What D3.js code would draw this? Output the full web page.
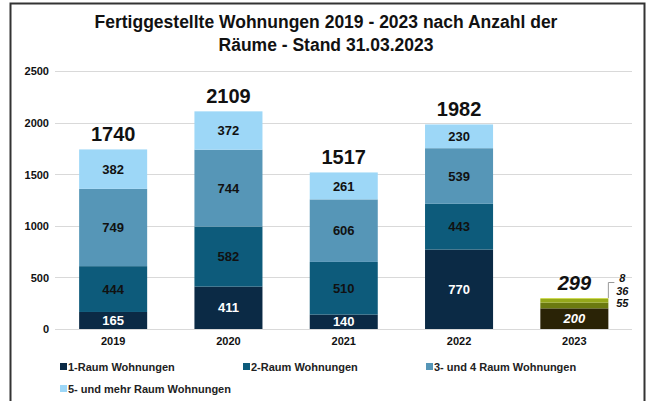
<!DOCTYPE html>
<meta charset="utf-8">
<style>
body {
  margin: 0;
  font-family: "Liberation Sans", Arial, sans-serif;
  width: 648px;
  height: 401px;
  background: #fff;
}
svg { display: block; }
.grid line { stroke: #d9d9d9; stroke-width: 1px; }
.tick text { font-weight: bold; font-size: 11px; fill: #111; }
</style>
<body>
<script src="https://d3js.org/d3.v7.min.js"></script>
<script>

// data
let years = ["2019", "2020", "2021", "2022", "2023"];
let raum1 = [165, 411, 140, 770, 200];
let raum2 = [444, 582, 510, 443, 55];
let raum34 = [749, 744, 606, 539, 36];
let raum5 = [382, 372, 261, 230, 8];
let totals = [1740, 2109, 1517, 1982, 299];
let yTicks = [0, 500, 1000, 1500, 2000, 2500];
let seriesNames = ["1-Raum Wohnungen", "2-Raum Wohnungen", "3- und 4 Raum Wohnungen", "5- und mehr Raum Wohnungen"];

let colors = ["#0b2a45", "#0d5b7b", "#5696b7", "#9dd7f7"];
let colors2023 = ["#2a2306", "#6b7a10", "#95a81b", "#c3d232"];

let width = 648, height = 401;

let svg = d3.select("body").append("svg")
	.attr("width", width)
	.attr("height", height);

// frame
svg.append("path")
	.attr("d", "M10.5,410 V3.5 H644.5 V410")
	.attr("fill", "none")
	.attr("stroke", "#333")
	.attr("stroke-width", 2);

// title
let title = svg.append("text")
	.attr("text-anchor", "middle")
	.attr("font-weight", "bold")
	.attr("font-size", "17.5px")
	.attr("fill", "#111");
title.append("tspan").attr("x", 326).attr("y", 28).text("Fertiggestellte Wohnungen 2019 - 2023 nach Anzahl der");
title.append("tspan").attr("x", 326).attr("y", 51).text("Räume - Stand 31.03.2023");

let x = d3.scaleBand()
	.domain(years)
	.range([55.5, 632])
	.paddingInner(0.41)
	.paddingOuter(0.205);

let y = d3.scaleLinear()
	.domain([0, 2500])
	.range([329, 71]);

// gridlines
svg.append("g")
	.attr("class", "grid")
	.selectAll("line")
	.data(yTicks)
	.join("line")
	.attr("x1", 55)
	.attr("x2", 632)
	.attr("y1", d => Math.round(y(d)) + 0.5)
	.attr("y2", d => Math.round(y(d)) + 0.5);

// y axis
let yAxis = svg.append("g")
	.attr("transform", "translate(49,0)")
	.call(d3.axisLeft(y).tickValues(yTicks).tickFormat(d3.format("d")).tickSize(0).tickPadding(0));
yAxis.select(".domain").remove();
yAxis.selectAll("text").attr("dy", "0.35em");

// x axis
let xAxis = svg.append("g")
	.attr("transform", "translate(0,335)")
	.call(d3.axisBottom(x).tickSize(0).tickPadding(0));
xAxis.select(".domain").remove();
xAxis.selectAll("text").attr("dy", "0.9em");

// stack
let rows = years.map((yr, i) => ({ year: yr, r1: raum1[i], r2: raum2[i], r34: raum34[i], r5: raum5[i] }));
let keys = ["r1", "r2", "r34", "r5"];
let stack = d3.stack().keys(keys)(rows);

let layers = svg.append("g").selectAll("g")
	.data(stack)
	.join("g");

layers.selectAll("rect")
	.data((s, si) => s.map(d => ({ d: d, si: si })))
	.join("rect")
	.attr("x", o => x(o.d.data.year))
	.attr("width", x.bandwidth())
	.attr("y", o => y(o.d[1]))
	.attr("height", o => y(o.d[0]) - y(o.d[1]))
	.attr("fill", o => o.d.data.year === "2023" ? colors2023[o.si] : colors[o.si]);

// segment labels (not 2023 small ones)
layers.selectAll("text")
	.data((s, si) => s.map(d => ({ d: d, si: si })).filter(o => o.d.data.year !== "2023" || o.si === 0))
	.join("text")
	.attr("x", o => x(o.d.data.year) + x.bandwidth() / 2)
	.attr("y", o => (y(o.d[0]) + y(o.d[1])) / 2)
	.attr("dy", "0.36em")
	.attr("text-anchor", "middle")
	.attr("font-weight", "bold")
	.attr("font-size", "13px")
	.attr("font-style", o => o.d.data.year === "2023" ? "italic" : "normal")
	.attr("fill", o => o.si === 0 ? "#fff" : "#111")
	.text(o => o.d[1] - o.d[0]);

// totals
svg.append("g").selectAll("text")
	.data(years)
	.join("text")
	.attr("x", (d, i) => x(d) + x.bandwidth() / 2)
	.attr("y", (d, i) => y(totals[i]) - 8)
	.attr("text-anchor", "middle")
	.attr("font-weight", "bold")
	.attr("font-size", "20px")
	.attr("font-style", d => d === "2023" ? "italic" : "normal")
	.attr("fill", "#111")
	.text((d, i) => totals[i]);

// 2023 small labels at the right
let x23 = x("2023") + x.bandwidth();
let small = [raum5[4], raum34[4], raum2[4]];
svg.append("g").selectAll("text")
	.data(small)
	.join("text")
	.attr("x", x23 + 14)
	.attr("y", (d, i) => 282 + i * 12.5)
	.attr("text-anchor", "middle")
	.attr("font-weight", "bold")
	.attr("font-style", "italic")
	.attr("font-size", "11px")
	.attr("fill", "#111")
	.text(d => d);

svg.append("polyline")
	.attr("points", [[x23, y(totals[4])], [x23, 282.5], [x23 + 6, 282.5]].join(" "))
	.attr("fill", "none")
	.attr("stroke", "#999")
	.attr("stroke-width", 1);

// legend
let legendPos = [[60, 367], [243, 367], [426, 367], [60, 389]];
let legend = svg.append("g").selectAll("g")
	.data(seriesNames)
	.join("g")
	.attr("transform", (d, i) => "translate(" + legendPos[i][0] + "," + legendPos[i][1] + ")");
legend.append("rect")
	.attr("x", 0)
	.attr("y", -4)
	.attr("width", 7)
	.attr("height", 7)
	.attr("fill", (d, i) => colors[i]);
legend.append("text")
	.attr("x", 8)
	.attr("y", 0)
	.attr("dy", "0.35em")
	.attr("font-weight", "bold")
	.attr("font-size", "11px")
	.attr("fill", "#222")
	.text(d => d);

</script>
</body>
